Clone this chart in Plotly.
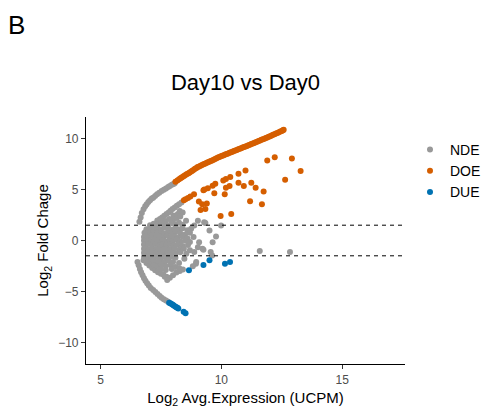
import plotly.graph_objects as go

# ---- data ----
# NDE (grey) points: arcs + central cloud + scattered
nde_arc_up = [(6.61,1.84),(6.66,2.25),(6.71,2.69),(6.78,3.05),(6.85,3.35),(6.91,3.56),(6.98,3.78),
              (7.05,3.95),(7.12,4.12),(7.18,4.2),(7.26,4.37),(7.34,4.52),(7.43,4.68),(7.53,4.85),
              (7.62,4.98),(7.71,5.1),(7.8,5.24),(7.87,5.34),(7.95,5.45),(8.02,5.54),(8.07,5.6)]
nde_arc_up_inner = [(7.46,2.1),(7.55,2.25),(7.64,2.42),(7.73,2.59),(7.82,2.75),(7.9,2.92),(7.98,3.08),
                    (8.07,3.24),(8.16,3.4),(8.25,3.56),(8.35,3.72)]
nde_arc_low = [(6.53,-2.1),(6.58,-2.43),(6.63,-2.8),(6.68,-3.1),(6.74,-3.4),(6.8,-3.7),(6.86,-3.95),
               (6.93,-4.2),(7.0,-4.4),(7.08,-4.65),(7.18,-4.85),(7.27,-5.05),(7.36,-5.25),(7.45,-5.43),
               (7.53,-5.6),(7.62,-5.75),(7.71,-5.88),(7.8,-5.99)]
nde_arc_low_inner = [(6.78,-1.94),(6.9,-2.2),(7.02,-2.45),(7.14,-2.7),(7.26,-2.92),(7.38,-3.1),(7.5,-3.25),
                     (7.6,-3.33),(7.73,-3.56),(7.87,-3.66),(8.0,-3.4),(8.14,-3.14),(8.28,-3.0),(8.41,-2.85),
                     (7.66,-3.56),(7.76,-3.88)]
nde_cloud = [
    (8.02,2.45),(8.2,2.6),(8.28,2.9),(8.4,2.75),
    (7.35,1.95),(7.5,2.05),(7.7,1.9),(7.85,2.1),(8.0,2.0),(8.15,2.2),(8.3,2.35),(8.54,1.94),(9.03,1.94),(9.29,1.78),(9.34,1.72),
    (7.05,1.5),(7.2,1.65),(7.35,1.55),(7.5,1.7),(7.65,1.6),(7.8,1.5),(7.95,1.7),(8.1,1.6),(8.25,1.75),(8.4,1.55),(8.88,1.46),(9.99,1.46),
    (6.9,1.1),(7.05,1.2),(7.2,1.15),(7.35,1.25),(7.5,1.1),(7.65,1.3),(7.8,1.2),(7.95,1.05),(8.1,1.25),(8.25,1.1),(8.4,1.2),(8.6,1.0),(8.75,1.15),
    (6.82,0.75),(6.9,0.85),(7.05,0.7),(7.2,0.9),(7.35,0.75),(7.5,0.85),(7.65,0.7),(7.8,0.9),(7.95,0.75),(8.1,0.85),(8.3,0.7),(8.5,0.6),(8.7,0.75),(9.51,0.97),
    (6.8,0.35),(6.88,0.45),(7.0,0.3),(7.15,0.5),(7.3,0.35),(7.45,0.45),(7.6,0.3),(7.75,0.5),(7.9,0.35),(8.05,0.45),(8.2,0.3),(8.4,0.4),(8.6,0.2),(8.85,0.35),(9.78,0.39),
    (6.8,0.0),(6.86,-0.1),(6.95,0.05),(7.1,-0.05),(7.25,0.1),(7.4,-0.05),(7.55,0.05),(7.7,-0.1),(7.85,0.05),(8.0,-0.05),(8.15,0.1),(8.3,-0.1),(8.5,0.0),(8.7,-0.15),(9.08,-0.16),(9.64,-0.16),
    (6.8,-0.4),(6.86,-0.5),(6.97,-0.35),(7.12,-0.45),(7.27,-0.35),(7.42,-0.5),(7.57,-0.4),(7.72,-0.45),(7.87,-0.35),(8.02,-0.5),(8.2,-0.4),(8.4,-0.55),(8.62,-0.45),(9.03,-0.65),
    (6.8,-0.8),(6.85,-0.75),(7.0,-0.9),(7.15,-0.8),(7.3,-0.85),(7.45,-0.75),(7.6,-0.9),(7.75,-0.8),(7.9,-0.85),(8.05,-0.75),(8.25,-0.9),(8.45,-0.8),(8.7,-0.95),(9.22,-0.81),(9.26,-0.9),
    (6.8,-1.2),(6.85,-1.25),(7.0,-1.15),(7.15,-1.3),(7.3,-1.2),(7.45,-1.25),(7.6,-1.15),(7.75,-1.3),(7.9,-1.2),(8.1,-1.25),(8.3,-1.15),(8.55,-1.3),(8.88,-1.13),(9.56,-1.13),
    (6.8,-1.6),(6.84,-1.65),(6.97,-1.55),(7.12,-1.7),(7.27,-1.6),(7.42,-1.65),(7.57,-1.55),(7.72,-1.7),(7.9,-1.6),(8.1,-1.7),(8.47,-1.78),(9.62,-1.46),
    (6.95,-2.0),(7.05,-2.05),(7.2,-1.95),(7.35,-2.1),(7.5,-2.0),(7.65,-2.1),(7.8,-1.95),(8.0,-2.1),(8.25,-2.2),(8.96,-2.1),
    (7.2,-2.4),(7.35,-2.5),(7.5,-2.35),(7.7,-2.5),(7.9,-2.4),(8.1,-2.6),(8.82,-2.52),(8.95,-2.27),
    (7.5,-2.8),(7.7,-2.9),(7.95,-2.8),(8.27,-2.75),
    (11.59,-1.04),(12.84,-1.13),
]

# DOE (orange) points
doe_arc_x = [8.10,8.18,8.25,8.31,8.36,8.42,8.47,8.53,8.58,8.64,8.69,8.75,8.80,8.86,8.91,8.97,9.02,9.08,
             9.14,9.20,9.26,9.32,9.38,9.44,9.50,9.56,9.62,9.68,9.74,9.80,9.86,9.92,9.98,10.04,
             10.10,10.16,10.22,10.28,10.34,10.40,10.46,10.52,10.58,10.64,10.70,10.76,10.82,10.88,
             10.94,11.00,11.06,11.12,11.18,11.24,11.30,11.36,11.42,11.48,11.54,11.60,11.66,11.72,
             11.78,11.84,11.90,11.96,12.02,12.08,12.14,12.20,12.26,12.32,12.38,12.44,12.50,12.55,12.58]
doe_arc_y = [5.76,5.89,6.01,6.10,6.18,6.27,6.35,6.43,6.51,6.59,6.67,6.75,6.83,6.93,7.02,7.11,7.19,7.26,
             7.33,7.40,7.46,7.53,7.59,7.66,7.72,7.79,7.85,7.92,7.99,8.05,8.12,8.19,8.25,8.31,
             8.36,8.42,8.47,8.53,8.59,8.64,8.70,8.76,8.81,8.87,8.93,8.98,9.04,9.10,
             9.15,9.21,9.27,9.33,9.39,9.45,9.51,9.56,9.62,9.68,9.74,9.80,9.86,9.92,
             9.98,10.04,10.10,10.16,10.22,10.28,10.35,10.41,10.48,10.54,10.61,10.67,10.74,10.79,10.84]
doe_scatter = [(8.45,3.95),(8.52,4.05),(8.62,4.16),(8.72,4.3),(8.87,4.53),
               (11.90,7.83),(12.21,8.16),(12.92,8.03),(13.28,6.80),(12.64,5.95),(11.0,6.86),(10.71,6.54),
               (10.37,6.21),(10.19,6.02),(10.08,5.89),(9.75,5.56),(9.64,5.37),(9.44,5.12),(9.30,5.0),
               (9.26,4.92),(10.71,5.66),(10.93,5.34),(11.24,5.66),(11.42,5.17),(11.75,4.79),(10.34,5.34),
               (10.19,5.17),(9.71,4.63),(10.14,4.53),(11.19,3.85),(11.68,3.56),(9.40,3.62),(9.21,3.56),
               (9.07,3.82),(9.34,3.08),(9.14,2.98),(9.97,2.40),(10.41,2.59)]

# DUE (blue) points
due_points = [(7.84,-6.09),(7.89,-6.15),(7.94,-6.21),(7.99,-6.3),(8.03,-6.38),(8.09,-6.46),(8.14,-6.54),
              (8.18,-6.6),(8.22,-6.67),(8.44,-6.99),(8.52,-7.12),
              (8.66,-2.91),(9.26,-2.39),(9.51,-1.94),(10.15,-2.27),(10.36,-2.1)]

fc_cutoff = 1.5
x_ticks = [5, 10, 15]
y_ticks = [-10, -5, 0, 5, 10]

# ---- build ----
nde = nde_arc_up + nde_arc_up_inner + nde_arc_low + nde_arc_low_inner + nde_cloud
doe_x = doe_arc_x + [p[0] for p in doe_scatter]
doe_y = doe_arc_y + [p[1] for p in doe_scatter]

FONT = "Liberation Sans, Arial, sans-serif"
msize = 6
fig = go.Figure()
fig.add_trace(go.Scatter(x=[p[0] for p in nde], y=[p[1] for p in nde], mode="markers", name="NDE",
                         marker=dict(color="#999999", size=msize, line=dict(width=0))))
fig.add_trace(go.Scatter(x=doe_x, y=doe_y, mode="markers", name="DOE",
                         marker=dict(color="#D55E00", size=msize, line=dict(width=0))))
fig.add_trace(go.Scatter(x=[p[0] for p in due_points], y=[p[1] for p in due_points], mode="markers", name="DUE",
                         marker=dict(color="#0072B2", size=msize, line=dict(width=0))))

for v in (fc_cutoff, -fc_cutoff):
    fig.add_shape(type="line", xref="paper", x0=0, x1=1, yref="y", y0=v, y1=v,
                  line=dict(color="black", width=1, dash="4px,4px"))

fig.update_layout(
    width=484, height=408,
    margin=dict(l=86, r=79, t=117, b=44, autoexpand=False),
    paper_bgcolor="white", plot_bgcolor="white",
    font=dict(family=FONT, color="black"),
    title=dict(text="Day10 vs Day0", x=245.5/484, xref="container", xanchor="center",
               y=1 - 82/408, yref="container", yanchor="middle", font=dict(size=22, color="black")),
    legend=dict(xref="container", yref="container", x=410/484, xanchor="left",
                y=1 - 134/408, yanchor="top", font=dict(size=14, color="black"),
                itemwidth=30, tracegroupgap=0, bgcolor="rgba(0,0,0,0)"),
    showlegend=True,
    annotations=[dict(text="B", xref="paper", yref="paper", x=(6-86)/319, y=(364-25)/247,
                      xanchor="left", yanchor="middle", showarrow=False,
                      font=dict(size=26, color="black", family=FONT))],
)
fig.update_xaxes(range=[4.4, 17.6], tickvals=x_ticks, showgrid=False, zeroline=False, automargin=False,
                 showline=True, linecolor="black", linewidth=1.2, ticks="outside", ticklen=4,
                 tickcolor="#333333", tickfont=dict(size=12, color="#4D4D4D"),
                 title=dict(text="Log<sub>2</sub> Avg.Expression (UCPM)", font=dict(size=15, color="black"), standoff=6))
fig.update_yaxes(range=[-12.1, 12.1], tickvals=y_ticks, showgrid=False, zeroline=False, automargin=False,
                 showline=True, linecolor="black", linewidth=1.2, ticks="outside", ticklen=4,
                 tickcolor="#333333", tickfont=dict(size=12, color="#4D4D4D"),
                 title=dict(text="Log<sub>2</sub> Fold Chage", font=dict(size=15, color="black"), standoff=5))

fig.write_html("out.html")
